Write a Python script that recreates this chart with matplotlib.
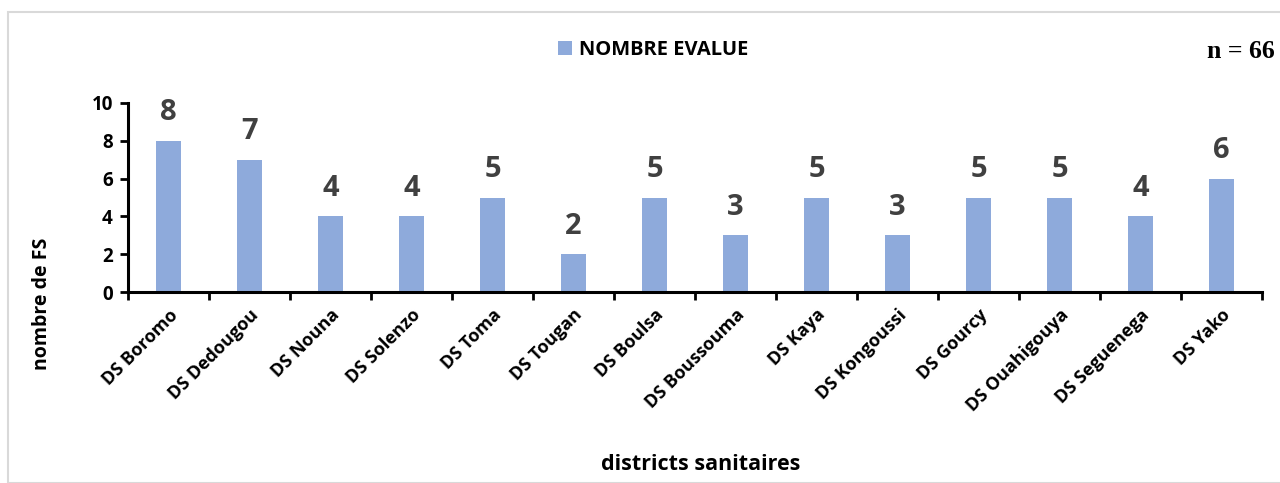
import numpy as np
import matplotlib.pyplot as plt
from matplotlib.patches import Rectangle

districts = ["DS Boromo", "DS Dedougou", "DS Nouna", "DS Solenzo", "DS Toma",
             "DS Tougan", "DS Boulsa", "DS Boussouma", "DS Kaya", "DS Kongoussi",
             "DS Gourcy", "DS Ouahigouya", "DS Seguenega", "DS Yako"]
nombre_evalue = [8, 7, 4, 4, 5, 2, 5, 3, 5, 3, 5, 5, 4, 6]

plt.rcParams['font.family'] = ['Open Sans', 'DejaVu Sans']
plt.rcParams['font.weight'] = 'bold'

fig = plt.figure(figsize=(12.8, 4.83), dpi=100)
# light grey frame around the chart area
fig.patches.append(Rectangle((8/1280, 0), 1.0, 1-12/483, transform=fig.transFigure,
                             fill=False, edgecolor='#d9d9d9', linewidth=1.5))

ax = fig.add_axes([128/1280, 1-292/483, (1262-128)/1280, (292-103)/483])
x = np.arange(len(districts))
bars = ax.bar(x, nombre_evalue, width=0.32, color='#8eaadb', label='NOMBRE EVALUE')
for xi, v in zip(x, nombre_evalue):
    ax.text(xi, v + 0.72, str(v), ha='center', va='bottom', fontsize=21,
            fontweight='bold', color='#404040')

ax.set_xlim(-0.5, len(districts) - 0.5)
ax.set_ylim(0, 10)
ax.set_yticks([0, 2, 4, 6, 8, 10])
ax.set_xticks(np.arange(-0.5, len(districts)), labels=[])
ax.set_xticks(x, minor=True)
ax.set_xticklabels(districts, minor=True, rotation=45, ha='right',
                   rotation_mode='anchor', fontsize=13, fontweight='bold')
ax.tick_params(axis='x', which='minor', length=0, pad=10)
ax.tick_params(axis='x', which='major', length=6, width=2, direction='out')
ax.tick_params(axis='y', length=6, width=2, direction='out', labelsize=13.5, pad=5)
for lab in ax.get_yticklabels():
    lab.set_fontweight('bold')
for s in ['top', 'right']:
    ax.spines[s].set_visible(False)
for s in ['left', 'bottom']:
    ax.spines[s].set_linewidth(2.2)

fig.text(42/1280, 1-304/483, 'nombre de FS', rotation=90, ha='center', va='center',
         fontsize=14, fontweight='bold')
fig.text(701/1280, 1-465/483, 'districts sanitaires', ha='center', va='center',
         fontsize=15.5, fontweight='bold')

fig.legend(handles=[bars], loc='center', bbox_to_anchor=(653/1280, 1-50/483),
           frameon=False, handlelength=0.7, handleheight=0.7,
           handletextpad=0.35, prop={'weight': 'bold', 'size': 14.5})
fig.text(1275/1280, 1-52/483, 'n = 66', ha='right', va='center', fontsize=18.5,
         fontweight='bold', family='Liberation Serif')

fig.savefig('out.png', dpi=100)
